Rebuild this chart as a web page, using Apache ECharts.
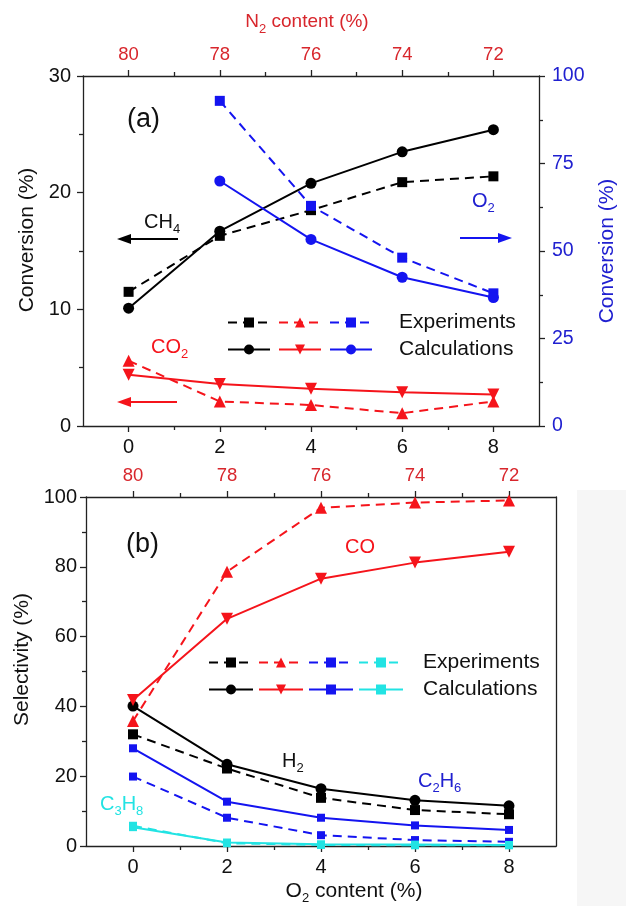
<!DOCTYPE html>
<html>
<head>
<meta charset="utf-8">
<script src="https://cdn.jsdelivr.net/npm/echarts@6/dist/echarts.min.js"></script>
<style>
html, body { margin: 0; padding: 0; background: #fff; }
#main { width: 626px; height: 906px; }
</style>
</head>
<body>
<div id="main"></div>
<script>
// O2 content (%) on the bottom axis, N2 content (%) on the top axis
var o2Content = [0, 2, 4, 6, 8];
var o2Minor = [1, 3, 5, 7];
var n2Ticks = [80, 78, 76, 74, 72];
var n2Minor = [79, 77, 75, 73];

// (a) conversion, CH4 / CO2 on left axis, O2 on right axis
var ch4Exp = [11.5, 16.3, 18.5, 20.9, 21.4];
var ch4Calc = [10.1, 16.7, 20.8, 23.5, 25.4];
var co2Exp = [5.6, 2.1, 1.8, 1.1, 2.1];
var co2Calc = [4.4, 3.6, 3.2, 2.9, 2.7];
var o2Exp = [null, 92.9, 62.9, 48.1, 37.9];
var o2Calc = [null, 70.0, 53.3, 42.5, 36.7];

// (b) selectivity
var h2Exp = [32.0, 22.2, 13.8, 10.3, 9.1];
var h2Calc = [40.1, 23.4, 16.4, 13.1, 11.5];
var coExp = [35.8, 78.6, 96.9, 98.4, 99.0];
var coCalc = [41.8, 65.1, 76.6, 81.2, 84.3];
var c2h6Exp = [19.9, 8.1, 3.1, 1.7, 1.2];
var c2h6Calc = [28.0, 12.7, 8.1, 5.9, 4.6];
var c3h8Exp = [5.8, 0.8, 0.3, 0.2, 0.2];
var c3h8Calc = [5.4, 1.0, 0.5, 0.4, 0.3];

var FONT = 'Liberation Sans, Arial, Helvetica, sans-serif';
var BLACK = '#000000', RED = '#f5141b', BLUE = '#1414f0', CYAN = '#22e3e3';
var RED_TXT = '#d8262c', BLUE_TXT = '#2020d0', AXIS = '#222222';

function pts(ys) {
    return o2Content.map(function (x, i) { return [x, ys[i]]; })
        .filter(function (p) { return p[1] != null; });
}

function mkLine(name, ys, color, dashed, symbol, size, xi, yi, rot) {
    return {
        name: name,
        type: 'line',
        xAxisIndex: xi,
        yAxisIndex: yi,
        data: pts(ys),
        symbol: symbol,
        symbolSize: size,
        symbolRotate: rot || 0,
        showSymbol: true,
        animation: false,
        itemStyle: { color: color },
        lineStyle: { color: color, width: 2, type: dashed ? [9, 6] : 'solid' },
        z: dashed ? 3 : 4
    };
}

// rich text with subscripts: parts like ['C', '2', 'H', '6'] -> alternating main/sub
function subText(parts) {
    return parts.map(function (p, i) {
        return (i % 2 === 0 ? '{a|' : '{s|') + p + '}';
    }).join('');
}
function richFor(color, size) {
    return {
        a: { fontSize: size, fontFamily: FONT, color: color, fill: color, lineHeight: 28 },
        s: { fontSize: 13, fontFamily: FONT, color: color, fill: color, lineHeight: 12, verticalAlign: 'bottom' }
    };
}

var lineStyleAx = { color: AXIS, width: 1.3 };

function bottomAxis(gi, custom, len, name) {
    var ax = {
        type: 'value', gridIndex: gi, position: 'bottom', min: -1, max: 9,
        splitLine: { show: false },
        axisLine: { show: len === 6, onZero: false, lineStyle: lineStyleAx },
        axisTick: { show: true, customValues: custom, length: len, lineStyle: lineStyleAx },
        axisLabel: { show: len === 6, customValues: custom, fontSize: 20, color: '#111', margin: 11, fontFamily: FONT }
    };
    if (name) {
        ax.name = name;
        ax.nameLocation = 'middle';
        ax.nameGap = 31;
        ax.nameTextStyle = { padding: [0, 0, 0, 66], rich: richFor('#111', 21) };
    }
    return ax;
}
function topAxis(gi, custom, len, name) {
    var ax = {
        type: 'value', gridIndex: gi, position: 'top', min: 71, max: 81, inverse: true,
        splitLine: { show: false },
        axisLine: { show: len === 6, onZero: false, lineStyle: lineStyleAx },
        axisTick: { show: true, customValues: custom, length: len, lineStyle: lineStyleAx },
        axisLabel: { show: len === 6, customValues: custom, fontSize: 18.5, color: RED_TXT, margin: 12, fontFamily: FONT }
    };
    if (name) {
        ax.name = name;
        ax.nameLocation = 'middle';
        ax.nameGap = 40;
        ax.nameTextStyle = { padding: [0, 8, 0, 0], rich: richFor(RED_TXT, 19) };
    }
    return ax;
}

var xAxes = [
    bottomAxis(0, o2Content, 6),
    bottomAxis(0, o2Minor, 4),
    topAxis(0, n2Ticks, 6, subText(['N', '2', ' content (%)'])),
    topAxis(0, n2Minor, 4),
    bottomAxis(1, o2Content, 6, subText(['O', '2', ' content (%)'])),
    bottomAxis(1, o2Minor, 4),
    topAxis(1, n2Ticks, 6),
    topAxis(1, n2Minor, 4)
];

var yAxes = [
    {
        type: 'value', gridIndex: 0, position: 'left', min: 0, max: 30, interval: 10,
        splitLine: { show: false },
        axisLine: { show: true, onZero: false, lineStyle: lineStyleAx },
        axisTick: { show: true, length: 6, lineStyle: lineStyleAx },
        minorTick: { show: true, splitNumber: 2, length: 4, lineStyle: lineStyleAx },
        axisLabel: { fontSize: 20, color: '#111', margin: 12, fontFamily: FONT },
        name: 'Conversion (%)', nameLocation: 'middle', nameGap: 42, nameRotate: 90,
        nameTextStyle: { fontSize: 21, color: '#111', fontFamily: FONT, padding: [0, 0, 0, 22] }
    },
    {
        type: 'value', gridIndex: 0, position: 'right', min: 0, max: 100, interval: 25,
        splitLine: { show: false },
        axisLine: { show: true, onZero: false, lineStyle: lineStyleAx },
        axisTick: { show: true, length: 6, lineStyle: lineStyleAx },
        minorTick: { show: true, splitNumber: 2, length: 4, lineStyle: lineStyleAx },
        axisLabel: { fontSize: 19.5, color: BLUE_TXT, margin: 13, fontFamily: FONT },
        name: 'Conversion (%)', nameLocation: 'middle', nameGap: 58, nameRotate: 90,
        nameTextStyle: { fontSize: 21, color: BLUE_TXT, fontFamily: FONT }
    },
    {
        type: 'value', gridIndex: 1, position: 'left', min: 0, max: 100, interval: 20,
        splitLine: { show: false },
        axisLine: { show: true, onZero: false, lineStyle: lineStyleAx },
        axisTick: { show: true, length: 6, lineStyle: lineStyleAx },
        minorTick: { show: true, splitNumber: 2, length: 4, lineStyle: lineStyleAx },
        axisLabel: { fontSize: 20, color: '#111', margin: 9, fontFamily: FONT },
        name: 'Selectivity (%)', nameLocation: 'middle', nameGap: 52, nameRotate: 90,
        nameTextStyle: { fontSize: 21, color: '#111', fontFamily: FONT, padding: [0, 0, 0, 24] }
    },
    {
        type: 'value', gridIndex: 1, position: 'right', min: 0, max: 100,
        splitLine: { show: false },
        axisLine: { show: true, onZero: false, lineStyle: lineStyleAx },
        axisTick: { show: false },
        axisLabel: { show: false }
    }
];

var series = [
    mkLine('CH4 exp', ch4Exp, BLACK, true, 'rect', 10, 0, 0),
    mkLine('CO2 exp', co2Exp, RED, true, 'triangle', 12, 0, 0),
    mkLine('O2 exp', o2Exp, BLUE, true, 'rect', 10, 0, 1),
    mkLine('CH4 calc', ch4Calc, BLACK, false, 'circle', 11, 0, 0),
    mkLine('CO2 calc', co2Calc, RED, false, 'triangle', 12, 0, 0, 180),
    mkLine('O2 calc', o2Calc, BLUE, false, 'circle', 11, 0, 1),

    mkLine('H2 exp', h2Exp, BLACK, true, 'rect', 10, 4, 2),
    mkLine('CO exp', coExp, RED, true, 'triangle', 12, 4, 2),
    mkLine('C2H6 exp', c2h6Exp, BLUE, true, 'rect', 8, 4, 2),
    mkLine('C3H8 exp', c3h8Exp, CYAN, true, 'rect', 8, 4, 2),
    mkLine('H2 calc', h2Calc, BLACK, false, 'circle', 11, 4, 2),
    mkLine('CO calc', coCalc, RED, false, 'triangle', 12, 4, 2, 180),
    mkLine('C2H6 calc', c2h6Calc, BLUE, false, 'rect', 8, 4, 2),
    mkLine('C3H8 calc', c3h8Calc, CYAN, false, 'rect', 8, 4, 2)
];

function legendRow(names, label, left, top, itemWidth, itemGap, textPad) {
    return {
        left: left, top: top, padding: 0, orient: 'horizontal',
        itemWidth: itemWidth, itemHeight: 12.5, itemGap: itemGap,
        selectedMode: false,
        data: names.map(function (n, i) {
            var d = { name: n };
            if (i === names.length - 1) d.textStyle = { padding: [0, 0, 0, textPad] };
            return d;
        }),
        formatter: function (n) { return n === names[names.length - 1] ? label : ''; },
        textStyle: { fontSize: 21, color: '#111', fontFamily: FONT }
    };
}

function arrow(x1, x2, y, color) {
    // x2 is the tip
    var dir = x2 > x1 ? 1 : -1;
    return {
        type: 'group',
        children: [
            { type: 'line', shape: { x1: x1, y1: y, x2: x2 - dir * 8, y2: y }, style: { stroke: color, lineWidth: 2 } },
            { type: 'polygon', shape: { points: [[x2, y], [x2 - dir * 14, y - 5], [x2 - dir * 14, y + 5]] }, style: { fill: color } }
        ]
    };
}

function label(x, y, parts, color, size) {
    return {
        type: 'text', x: x, y: y,
        style: {
            text: subText(parts), rich: richFor(color, size || 20),
            fill: color, verticalAlign: 'middle', align: 'left'
        }
    };
}

var option = {
    backgroundColor: '#ffffff',
    animation: false,
    textStyle: { fontFamily: FONT },
    grid: [
        { left: 83, top: 76, width: 469, height: 350 },
        { left: 86, top: 497, width: 470, height: 350 }
    ],
    xAxis: xAxes,
    yAxis: yAxes,
    legend: [
        legendRow(['CH4 exp', 'CO2 exp', 'O2 exp'], 'Experiments', 227, 312, 42, 7, 22),
        legendRow(['CH4 calc', 'CO2 calc', 'O2 calc'], 'Calculations', 227, 339, 42, 7, 22),
        legendRow(['H2 exp', 'CO exp', 'C2H6 exp', 'C3H8 exp'], 'Experiments', 208, 652, 44, 4, 15),
        legendRow(['H2 calc', 'CO calc', 'C2H6 calc', 'C3H8 calc'], 'Calculations', 208, 679, 44, 4, 15)
    ],
    graphic: [
        { type: 'rect', shape: { x: 577, y: 490, width: 49, height: 416 }, style: { fill: '#f6f6f6' }, z: -1 },
        { type: 'text', x: 127, y: 120, style: { text: '(a)', font: '27px ' + FONT, fill: '#111', verticalAlign: 'middle' } },
        { type: 'text', x: 126, y: 545, style: { text: '(b)', font: '27px ' + FONT, fill: '#111', verticalAlign: 'middle' } },
        label(144, 222, ['CH', '4'], '#111'),
        label(472, 201, ['O', '2'], BLUE_TXT),
        label(151, 347, ['CO', '2'], RED),
        label(345, 547, ['CO'], RED),
        label(282, 761, ['H', '2'], '#111'),
        label(418, 781, ['C', '2', 'H', '6'], BLUE_TXT),
        label(100, 804, ['C', '3', 'H', '8'], CYAN),
        arrow(178, 117, 239, BLACK),
        arrow(460, 512, 238, BLUE),
        arrow(177, 117, 402, RED)
    ],
    series: series
};

var chart = echarts.init(document.getElementById('main'), null, { renderer: 'canvas' });
chart.setOption(option);
</script>
</body>
</html>
